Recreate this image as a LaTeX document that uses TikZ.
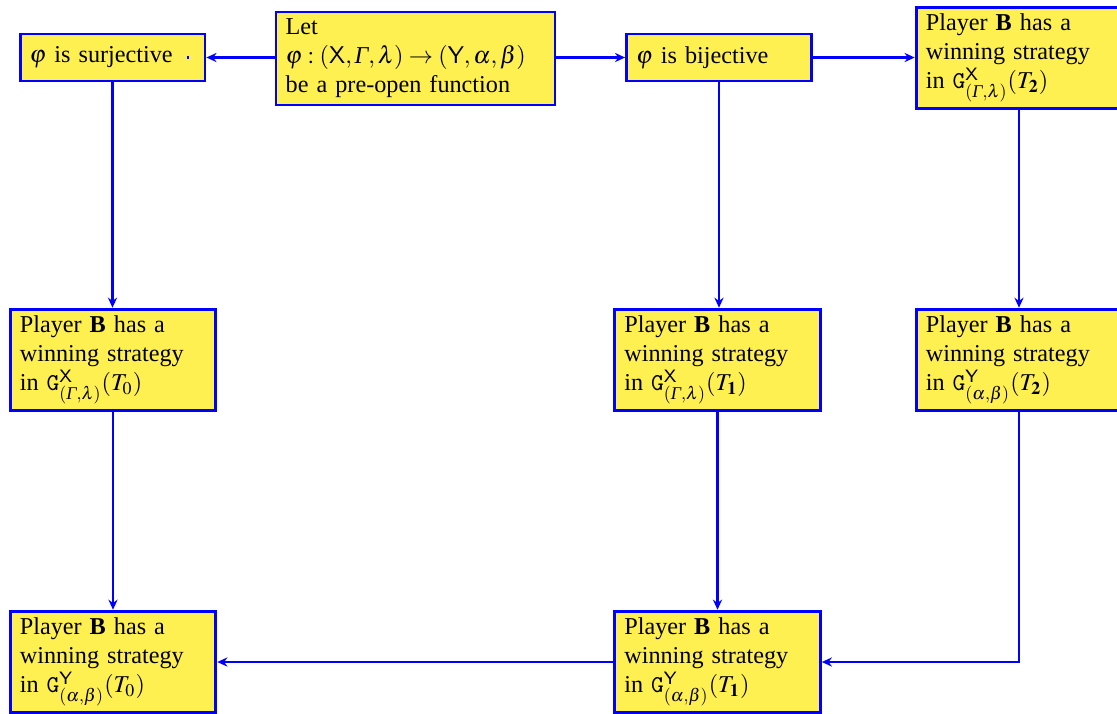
\documentclass[tikz,border=0pt]{standalone}
\usepackage{amsmath}
\usepackage{mathptmx}
\usepackage{fontspec}
\setmainfont{Liberation Serif}
\usetikzlibrary{arrows.meta}
\definecolor{boxfill}{RGB}{255,240,82}
\newcommand{\Gam}{\text{\itshape Γ}}
\newcommand{\SX}{\text{\sffamily X}}
\newcommand{\SY}{\text{\sffamily Y}}
\newcommand{\GameX}{\text{\ttfamily G}^{\SX}_{(\Gam,\lambda)}}
\newcommand{\GameY}{\text{\ttfamily G}^{\SY}_{(\alpha,\beta)}}
\tikzset{
  box/.style={draw=blue, fill=boxfill, line width=1.2pt, inner xsep=4pt, inner ysep=2pt, align=left, font=\fontsize{10}{12}\selectfont},
  bigbox/.style={box, text width=77pt, minimum height=42pt},
  smallbox/.style={box, text width=68.4pt, minimum height=19.4pt},
  letbox/.style={box, text width=107.3pt, minimum height=38.4pt},
  conn/.style={draw=blue, line width=1pt, -{Stealth[length=4.2pt,width=3.8pt,inset=1.4pt]}}
}
\begin{document}
\begin{tikzpicture}[x=0.4132pt,y=-0.4132pt]
\useasboundingbox (0,0) rectangle (1117,713);
\clip (0,0) rectangle (1117,713);
\node[smallbox] (surj) at (112.5,57.5) {$\varphi$ is surjective};
\node[letbox] (let) at (415.5,58.5) {Let\\$\varphi:(\SX,\Gam,\lambda)\to(\SY,\alpha,\beta)$\\be a pre-open function};
\node[smallbox] (bij) at (719,57.5) {$\varphi$ is bijective};
\node[bigbox] (t2x) at (1019,58) {Player \textbf{B} has a\\winning strategy\\in $\GameX(T_{\mathbf{2}})$};
\node[bigbox] (t0x) at (113,360) {Player \textbf{B} has a\\winning strategy\\in $\GameX(T_0)$};
\node[bigbox] (t1x) at (717.5,360) {Player \textbf{B} has a\\winning strategy\\in $\GameX(T_{\mathbf{1}})$};
\node[bigbox] (t2y) at (1019,360) {Player \textbf{B} has a\\winning strategy\\in $\GameY(T_{\mathbf{2}})$};
\node[bigbox] (t0y) at (113,662) {Player \textbf{B} has a\\winning strategy\\in $\GameY(T_0)$};
\node[bigbox] (t1y) at (717.5,662) {Player \textbf{B} has a\\winning strategy\\in $\GameY(T_{\mathbf{1}})$};
\fill[blue] (187.4,55.5) rectangle (188.6,59);
\draw[conn] (let.west |- surj.east) -- (surj.east);
\draw[conn] (let.east |- bij.west) -- (bij.west);
\draw[conn] (bij.east) -- (bij.east -| t2x.west);
\draw[conn] (surj.south) -- (surj.south |- t0x.north);
\draw[conn] (bij.south) -- (bij.south |- t1x.north);
\draw[conn] (t2x.south) -- (t2y.north);
\draw[conn] (t0x.south) -- (t0y.north);
\draw[conn] (t1x.south) -- (t1y.north);
\draw[conn] (t2y.south) |- (t1y.east);
\draw[conn] (t1y.west) -- (t0y.east);
\end{tikzpicture}
\end{document}
